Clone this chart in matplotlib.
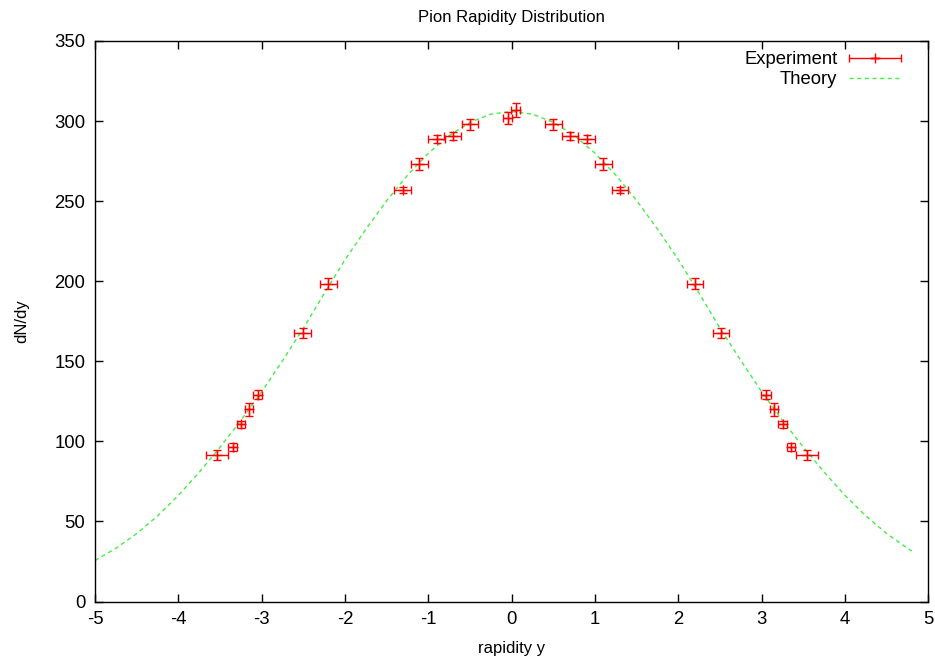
import matplotlib
matplotlib.use("Agg")
import matplotlib.pyplot as plt
from matplotlib.legend_handler import HandlerErrorbar

plt.rcParams['font.family'] = ['Liberation Sans', 'DejaVu Sans']
plt.rcParams['font.size'] = 13.3
plt.rcParams['axes.unicode_minus'] = False

# measured points (rapidity, dN/dy, errors)
expY = [-3.54, -3.35, -3.25, -3.15, -3.05, -2.51, -2.20, -1.31, -1.11, -0.90, -0.71, -0.50,
        -0.05, 0.05, 0.50, 0.70, 0.90, 1.10, 1.30, 2.20, 2.51, 3.05, 3.15, 3.25, 3.35, 3.54]
expN = [91.5, 96.5, 110.6, 120.0, 129.2, 167.5, 198.5, 257.0, 273.3, 288.7, 290.5, 298.0,
        302.0, 307.0, 298.0, 290.5, 288.7, 273.3, 257.0, 198.5, 167.5, 129.2, 120.0, 110.6, 96.5, 91.5]
expXerr = [0.13, 0.05, 0.05, 0.05, 0.055, 0.10, 0.10, 0.10, 0.10, 0.10, 0.10, 0.10,
           0.055, 0.055, 0.10, 0.10, 0.10, 0.10, 0.10, 0.10, 0.10, 0.055, 0.05, 0.05, 0.05, 0.13]
expNerr = [3.0, 2.3, 2.0, 4.0, 2.7, 3.1, 3.4, 2.0, 3.6, 2.5, 2.5, 3.3,
           3.8, 4.2, 3.3, 2.5, 2.5, 3.6, 2.0, 3.4, 3.1, 2.7, 4.0, 2.0, 2.3, 3.0]

# theory curve
thY = [-5.0, -4.75, -4.5, -4.25, -4.0, -3.75, -3.5, -3.25, -3.0, -2.75, -2.5, -2.25, -2.0,
       -1.75, -1.5, -1.25, -1.0, -0.75, -0.5, -0.25, 0.0, 0.25, 0.5, 0.75, 1.0, 1.25, 1.5,
       1.75, 2.0, 2.25, 2.5, 2.75, 3.0, 3.25, 3.5, 3.75, 4.0, 4.25, 4.5, 4.75, 4.8]
thN = [25.6, 33.2, 42.4, 53.4, 66.2, 80.7, 96.3, 113.0, 130.9, 150.4, 170.6, 192.3, 213.4,
       232.5, 250.3, 266.2, 279.9, 291.0, 299.2, 304.3, 306.0, 304.3, 299.2, 291.0, 279.9, 266.2, 250.3,
       232.5, 213.4, 192.3, 170.6, 150.4, 130.9, 113.0, 96.3, 80.7, 66.2, 53.4, 42.4, 33.2, 31.5]

fig = plt.figure(figsize=(9.35, 6.61), dpi=100)
ax = fig.add_axes([0.1016, 0.09, 0.8914, 0.848])

eb = ax.errorbar(expY, expN, xerr=expXerr, yerr=expNerr, fmt='+', color='#ff0000',
                 ms=7, mew=1, elinewidth=1, capsize=3, capthick=1, label='Experiment', zorder=3)
th, = ax.plot(thY, thN, color='#44ee44', lw=1, dashes=(3, 2.5), label='Theory', zorder=2)

ax.set_xlim(-5, 5)
ax.set_ylim(0, 350)
ax.set_xticks(range(-5, 6))
ax.set_yticks(range(0, 351, 50))
ax.tick_params(direction='in', length=6, width=1, top=True, right=True, pad=7)
for s in ax.spines.values():
    s.set_linewidth(1)

ax.set_title('Pion Rapidity Distribution', fontsize=12, pad=14)
ax.set_xlabel('rapidity y', fontsize=12, labelpad=9)
ax.set_ylabel('dN/dy', fontsize=12, labelpad=18)

leg = ax.legend([eb, th], ['Experiment', 'Theory'], loc='upper right',
                bbox_to_anchor=(0.985, 1.008), frameon=False,
                markerfirst=False, handlelength=2.85, handletextpad=0.6, labelspacing=0.15,
                borderaxespad=0.3, borderpad=0.5, fontsize=13.3,
                handler_map={type(eb): HandlerErrorbar(xerr_size=1.42, yerr_size=0)})

fig.savefig('out.png', dpi=100)
